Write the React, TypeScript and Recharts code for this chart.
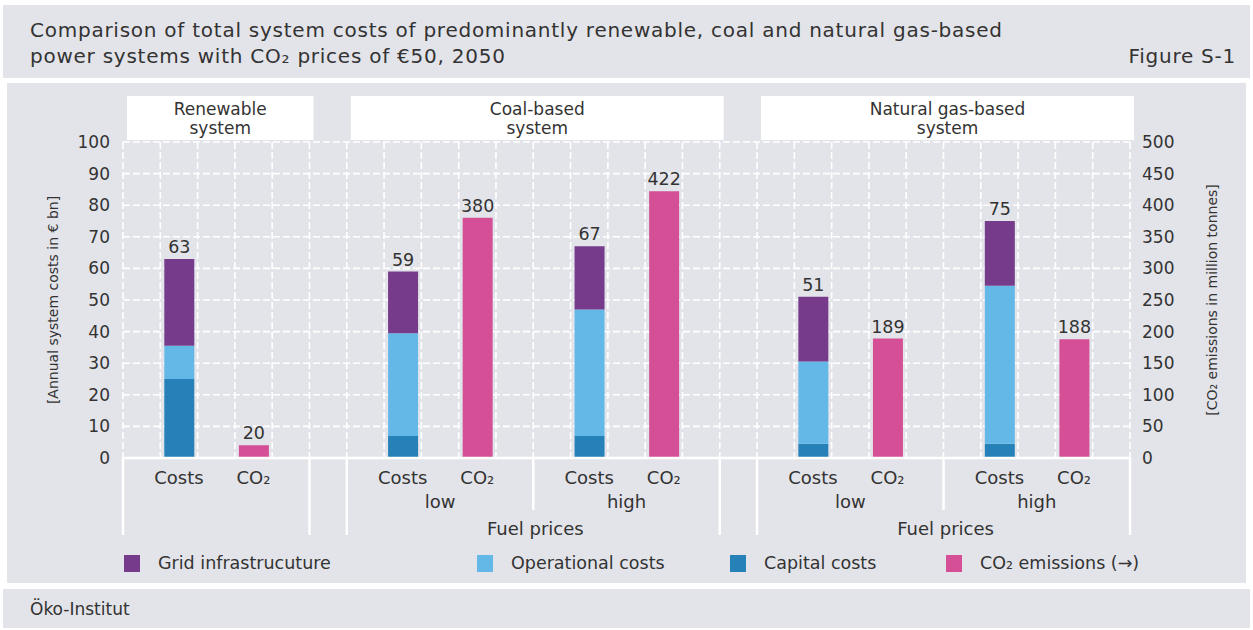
import React from 'react';
import { BarChart, Bar, XAxis, YAxis, CartesianGrid, LabelList } from 'recharts';

// values (costs in € bn, CO2 in million tonnes)
const scenarios = ['Renewable', 'Coal low', 'Coal high', 'Gas low', 'Gas high'];
const capitalCosts = [25, 7, 7, 4.5, 4.5];
const operationalCosts = [10.5, 32.5, 40, 26, 50];
const gridCosts = [27.5, 19.5, 20, 20.5, 20.5];
const totalCosts = [63, 59, 67, 51, 75];
const co2Emissions = [20, 380, 422, 189, 188];

const leftTicks = [0, 10, 20, 30, 40, 50, 60, 70, 80, 90, 100];
const rightTicks = [0, 50, 100, 150, 200, 250, 300, 350, 400, 450, 500];
const barLabels = ['Costs', 'CO₂'];

const sections = [
  { title: ['Renewable', 'system'], note: '', groups: [{ label: '', scenario: 0 }] },
  {
    title: ['Coal-based', 'system'],
    note: 'Fuel prices',
    groups: [
      { label: 'low', scenario: 1 },
      { label: 'high', scenario: 2 },
    ],
  },
  {
    title: ['Natural gas-based', 'system'],
    note: 'Fuel prices',
    groups: [
      { label: 'low', scenario: 3 },
      { label: 'high', scenario: 4 },
    ],
  },
];

const legendItems = [
  { label: 'Grid infrastrucuture', color: '#773b8b' },
  { label: 'Operational costs', color: '#63b8e8' },
  { label: 'Capital costs', color: '#2581b8' },
  { label: 'CO₂ emissions (→)', color: '#d44f96' },
];

const COLORS = {
  capital: '#2581b8',
  operational: '#63b8e8',
  grid: '#773b8b',
  co2: '#d44f96',
  panel: '#e3e4e9',
  text: '#333333',
};

const FONT = "'DejaVu Sans', Verdana, sans-serif";

// layout
const W = 1253;
const H = 630;
const MARGIN = { top: 142, right: 63, bottom: 82, left: 63 };
const Y_AXIS_W = 60;
const X_AXIS_H = 90;
const PLOT_W = W - MARGIN.left - MARGIN.right - 2 * Y_AXIS_W;
const PLOT_H = H - MARGIN.top - MARGIN.bottom - X_AXIS_H;

// slot layout: each group = [blank, costs, blank, co2, blank], a blank slot between sections
type Slot = {
  id: string;
  section: number;
  group: number;
  pos: number;
  scenario: number | null;
  gap: boolean;
};
const slots: Slot[] = [];
sections.forEach((sec, si) => {
  if (si > 0) slots.push({ id: `gap${si}`, section: si, group: -1, pos: -1, scenario: null, gap: true });
  sec.groups.forEach((g, gi) => {
    for (let p = 0; p < 5; p++) {
      slots.push({ id: `s${si}g${gi}p${p}`, section: si, group: gi, pos: p, scenario: g.scenario, gap: false });
    }
  });
});
const SLOT_W = PLOT_W / slots.length;

const data = slots.map((s) => {
  const sc = s.scenario;
  const isCost = sc !== null && s.pos === 1;
  const isCo2 = sc !== null && s.pos === 3;
  return {
    slot: s.id,
    capital: isCost ? capitalCosts[sc as number] : null,
    operational: isCost ? operationalCosts[sc as number] : null,
    grid: isCost ? gridCosts[sc as number] : null,
    total: isCost ? totalCosts[sc as number] : null,
    co2: isCo2 ? co2Emissions[sc as number] : null,
    name: sc !== null ? scenarios[sc] : '',
  };
});

const textStyle = { fontFamily: FONT, fontSize: 17, fill: COLORS.text };
const labelStyle = { fontFamily: FONT, fontSize: 18, fill: COLORS.text };
const headStyle = { fontFamily: FONT, fontSize: 17, fill: COLORS.text };

function SlotTick(props: any) {
  const { x, y, payload } = props;
  const idx = slots.findIndex((s) => s.id === payload.value);
  const s = slots[idx];
  if (!s || s.gap) return null;
  const sec = sections[s.section];
  const left = x - SLOT_W / 2;
  const right = x + SLOT_W / 2;
  const nGroups = sec.groups.length;
  const sectionSlots = nGroups * 5;
  const out: React.ReactNode[] = [];

  if (s.pos === 1) out.push(<text key="c" x={x} y={y + 19} textAnchor="middle" dominantBaseline="central" {...labelStyle}>{barLabels[0]}</text>);
  if (s.pos === 3) out.push(<text key="o" x={x} y={y + 19} textAnchor="middle" dominantBaseline="central" {...labelStyle}>{barLabels[1]}</text>);
  if (s.pos === 2 && sec.groups[s.group].label) {
    out.push(<text key="g" x={x} y={y + 43} textAnchor="middle" dominantBaseline="central" {...labelStyle}>{sec.groups[s.group].label}</text>);
  }
  if (s.pos === 4 && s.group === 0 && sec.note) {
    const cx = right + 2;
    out.push(<text key="n" x={cx} y={y + 70} textAnchor="middle" dominantBaseline="central" {...labelStyle}>{sec.note}</text>);
  }
  // separators below the axis
  if (s.pos === 0) {
    const long = s.group === 0;
    out.push(<line key="l" x1={left} x2={left} y1={y} y2={y + (long ? 77 : 52)} stroke="#fff" strokeWidth={2.5} />);
  }
  if (s.pos === 4 && s.group === nGroups - 1) {
    out.push(<line key="r" x1={right} x2={right} y1={y} y2={y + 77} stroke="#fff" strokeWidth={2.5} />);
  }
  // section header box above the plot
  if (s.pos === 0 && s.group === 0) {
    const bx = left + 4;
    const bw = sectionSlots * SLOT_W;
    const top = y - PLOT_H - 46;
    out.push(
      <g key="h">
        <rect x={bx} y={top} width={bw} height={44} fill="#fff" />
        <text x={bx + bw / 2} y={top + 13} textAnchor="middle" dominantBaseline="central" {...headStyle}>{sec.title[0]}</text>
        <text x={bx + bw / 2} y={top + 32} textAnchor="middle" dominantBaseline="central" {...headStyle}>{sec.title[1]}</text>
      </g>
    );
  }
  return <g>{out}</g>;
}

function AxisTitle({ viewBox, dx, value }: any) {
  const cx = viewBox.x + dx;
  const cy = viewBox.y + viewBox.height / 2;
  return (
    <text transform={`translate(${cx},${cy}) rotate(-90)`} textAnchor="middle" dominantBaseline="central" fontFamily={FONT} fontSize={14} fill={COLORS.text}>
      {value}
    </text>
  );
}

export default function App() {
  return (
    <div style={{ position: 'absolute', left: 0, top: 0, width: W, height: H, background: '#fff', overflow: 'hidden', fontFamily: FONT, color: COLORS.text }}>
      <div style={{ position: 'absolute', left: 3, top: 5, width: 1247, height: 73, background: COLORS.panel }}>
        <div style={{ position: 'absolute', left: 27, top: 12, fontSize: 20, lineHeight: '26px', letterSpacing: 0.75 }}>
          Comparison of total system costs of predominantly renewable, coal and natural gas-based
          <br />
          power systems with CO₂ prices of €50, 2050
        </div>
        <div style={{ position: 'absolute', right: 14, top: 38, fontSize: 20, lineHeight: '26px', letterSpacing: 0.75 }}>Figure S-1</div>
      </div>
      <div style={{ position: 'absolute', left: 7, top: 83, width: 1239, height: 500, background: COLORS.panel }} />
      <div style={{ position: 'absolute', left: 3, top: 589, width: 1247, height: 39, background: COLORS.panel }}>
        <div style={{ position: 'absolute', left: 27, top: 9, fontSize: 17, lineHeight: '22px' }}>Öko-Institut</div>
      </div>

      <div style={{ position: 'absolute', left: 0, top: 0 }}>
        <BarChart width={W} height={H} data={data} margin={MARGIN} barCategoryGap={0}>
          <CartesianGrid
            yAxisId="left"
            stroke="#ffffff"
            strokeWidth={1.6}
            strokeDasharray="7 3"
            verticalCoordinatesGenerator={({ offset }: any) =>
              slots.map((_, i) => (offset?.left ?? MARGIN.left + Y_AXIS_W) + i * SLOT_W).concat([(offset?.left ?? MARGIN.left + Y_AXIS_W) + PLOT_W])
            }
          />
          <XAxis
            dataKey="slot"
            interval={0}
            height={X_AXIS_H}
            tickSize={0}
            tickMargin={0}
            tickLine={false}
            axisLine={{ stroke: '#fff', strokeWidth: 2.5 }}
            tick={<SlotTick />}
          />
          <YAxis
            yAxisId="left"
            width={Y_AXIS_W}
            domain={[0, 100]}
            ticks={leftTicks}
            interval={0}
            axisLine={false}
            tickLine={false}
            tickMargin={7}
            tick={{ ...textStyle }}
            label={{ content: (p: any) => <AxisTitle {...p} dx={-10} value="[Annual system costs in € bn]" /> }}
          />
          <YAxis
            yAxisId="right"
            orientation="right"
            width={Y_AXIS_W}
            domain={[0, 500]}
            ticks={rightTicks}
            interval={0}
            axisLine={false}
            tickLine={false}
            tickMargin={6}
            tick={{ ...textStyle }}
            label={{ content: (p: any) => <AxisTitle {...p} dx={82} value="[CO₂ emissions in million tonnes]" /> }}
          />
          <Bar yAxisId="left" dataKey="capital" stackId="a" fill={COLORS.capital} barSize={30} isAnimationActive={false} />
          <Bar yAxisId="left" dataKey="operational" stackId="a" fill={COLORS.operational} barSize={30} isAnimationActive={false} />
          <Bar yAxisId="left" dataKey="grid" stackId="a" fill={COLORS.grid} barSize={30} isAnimationActive={false}>
            <LabelList dataKey="total" position="top" offset={6} style={{ fontFamily: FONT, fontSize: 17.5, fill: COLORS.text }} />
          </Bar>
          <Bar yAxisId="right" dataKey="co2" stackId="a" fill={COLORS.co2} barSize={30} isAnimationActive={false}>
            <LabelList dataKey="co2" position="top" offset={6} style={{ fontFamily: FONT, fontSize: 17.5, fill: COLORS.text }} />
          </Bar>
        </BarChart>
      </div>

      {legendItems.map((item, i) => {
        const lefts = [124, 477, 730, 946];
        return (
          <div key={item.label} style={{ position: 'absolute', left: lefts[i], top: 554, display: 'flex', alignItems: 'center', height: 18 }}>
            <div style={{ width: 16, height: 17, background: item.color, marginRight: 18 }} />
            <span style={{ fontSize: 17.5, lineHeight: '18px', whiteSpace: 'nowrap' }}>{item.label}</span>
          </div>
        );
      })}
    </div>
  );
}
